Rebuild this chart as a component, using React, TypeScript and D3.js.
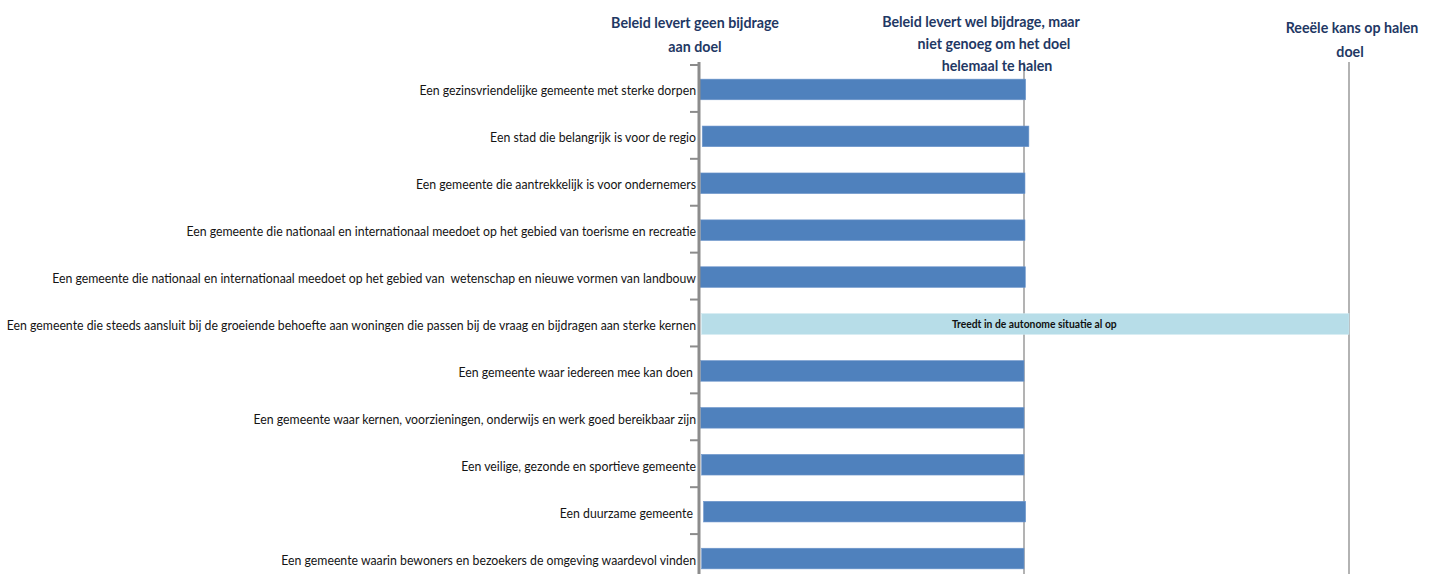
import React, { useLayoutEffect, useRef, useState } from "react";
import * as d3 from "d3";

const categories: string[] = [
  "Een gezinsvriendelijke gemeente met sterke dorpen",
  "Een stad die belangrijk is voor de regio",
  "Een gemeente die aantrekkelijk is voor ondernemers",
  "Een gemeente die nationaal en internationaal meedoet op het gebied van toerisme en recreatie",
  "Een gemeente die nationaal en internationaal meedoet op het gebied van  wetenschap en nieuwe vormen van landbouw",
  "Een gemeente die steeds aansluit bij de groeiende behoefte aan woningen die passen bij de vraag en bijdragen aan sterke kernen",
  "Een gemeente waar iedereen mee kan doen ",
  "Een gemeente waar kernen, voorzieningen, onderwijs en werk goed bereikbaar zijn",
  "Een veilige, gezonde en sportieve gemeente",
  "Een duurzame gemeente ",
  "Een gemeente waarin bewoners en bezoekers de omgeving waardevol vinden",
];

// bar start / end on the 0..2 scale (0 = geen bijdrage, 1 = wel bijdrage, 2 = reeële kans)
const barStart: number[] = [0, 0.01, 0.005, 0.005, 0, 0.008, 0.005, 0.005, 0.008, 0.014, 0.008];
const barEnd: number[] = [1.005, 1.015, 1.003, 1.003, 1.004, 2.0, 1.0, 1.0, 1.0, 1.005, 1.0];
const barKind: string[] = ["b", "b", "b", "b", "b", "a", "b", "b", "b", "b", "b"];
const barNotes: string[] = ["", "", "", "", "", "Treedt in de autonome situatie al op", "", "", "", "", ""];

const headerValues: number[] = [0, 1, 2];
const headerLines: string[][] = [
  ["Beleid levert geen bijdrage", "aan doel"],
  ["Beleid levert wel bijdrage, maar", "niet genoeg om het doel", "helemaal te halen"],
  ["Reeële kans op halen", "doel"],
];

const W = 1436;
const H = 574;
const FONT = "Lato, 'Open Sans', sans-serif";
const kindColor: Record<string, string> = { b: "#4F81BD", a: "#B7DDE8" };
const headerDx: number[][] = [[-4, -4], [-43, -30, -27], [3, 1]];
const headerY0 = [28, 27, 33];
const headerLH = [24, 22, 24];

export default function App() {
  const labelRef = useRef<SVGTextElement>(null);
  const headRef = useRef<SVGTextElement>(null);
  const noteRef = useRef<SVGTextElement>(null);
  const [sx, setSx] = useState(0.84);
  const [hx, setHx] = useState(0.89);
  const [nx, setNx] = useState(0.84);

  useLayoutEffect(() => {
    if (labelRef.current) {
      const w = labelRef.current.getComputedTextLength();
      if (w > 0) setSx(690 / w);
    }
    if (headRef.current) {
      const w = headRef.current.getComputedTextLength();
      if (w > 0) setHx(168 / w);
    }
    if (noteRef.current) {
      const w = noteRef.current.getComputedTextLength();
      if (w > 0) setNx(165 / w);
    }
  }, []);

  const x = d3.scaleLinear().domain([0, 2]).range([699, 1349]);
  const y = d3.scaleBand<string>().domain(categories.map((_, i) => String(i))).range([65, 581]).paddingInner(0.56).paddingOuter(0.28);
  const step = y.step();
  const bandTop = (i: number) => 65 + i * step;
  const longest = categories.reduce((a, b) => (b.length > a.length ? b : a), "");

  return (
    <svg width={W} height={H} style={{ position: "absolute", left: 0, top: 0, background: "#fff" }}>
      {/* hidden measurers */}
      <g visibility="hidden">
        <text ref={labelRef} fontFamily={FONT} fontSize={14}>{longest}</text>
        <text ref={headRef} fontFamily={FONT} fontSize={16} fontWeight="bold">{headerLines[0][0]}</text>
        <text ref={noteRef} fontFamily={FONT} fontSize={11} fontWeight="bold">{barNotes[5]}</text>
      </g>

      {/* reference lines */}
      {[1, 2].map((v) => (
        <line key={v} x1={x(v)} x2={x(v)} y1={62} y2={H} stroke="#8a8a8a" strokeWidth={1.3} />
      ))}

      {/* bars */}
      {categories.map((c, i) => {
        const yy = (y(String(i)) as number) + 1;
        const x0 = x(barStart[i]);
        const x1 = x(barEnd[i]);
        return (
          <g key={c + i}>
            <rect x={x0} y={yy} width={x1 - x0} height={y.bandwidth()} fill={kindColor[barKind[i]]} stroke={barKind[i] === "b" ? "#6f97cc" : "#cde8f0"} strokeWidth={0.6} />
            {barNotes[i] && (
              <text
                transform={`translate(${(x0 + x1) / 2 + 9},${yy + y.bandwidth() / 2 + 4}) scale(${nx},1)`}
                textAnchor="middle"
                fontFamily={FONT}
                fontSize={11}
                fontWeight="bold"
                fill="#111"
              >
                {barNotes[i]}
              </text>
            )}
          </g>
        );
      })}

      {/* axis */}
      <line x1={x(0)} x2={x(0)} y1={62} y2={H + 10} stroke="#8c8c8c" strokeWidth={3} />
      {d3.range(categories.length + 1).map((i) => (
        <line key={"t" + i} x1={x(0) - 9} x2={x(0)} y1={bandTop(i)} y2={bandTop(i)} stroke="#8c8c8c" strokeWidth={2} />
      ))}

      {/* category labels */}
      {categories.map((c, i) => {
        const cy = (y(String(i)) as number) + y.bandwidth() / 2 + 1;
        return (
          <text
            key={"l" + i}
            transform={`translate(${x(0) - 3},${cy + 6}) scale(${sx},1)`}
            textAnchor="end"
            fontFamily={FONT}
            fontSize={14}
            fill="#141414"
            style={{ whiteSpace: "pre" }}
          >
            {c}
          </text>
        );
      })}

      {/* headers */}
      {headerValues.map((v, k) => (
        <g key={"h" + k}>
          {headerLines[k].map((line, j) => (
            <text
              key={j}
              transform={`translate(${x(v) + headerDx[k][j]},${headerY0[k] + j * headerLH[k]}) scale(${hx},1)`}
              textAnchor="middle"
              fontFamily={FONT}
              fontSize={16}
              fontWeight="bold"
              fill="#1F3864"
            >
              {line}
            </text>
          ))}
        </g>
      ))}
    </svg>
  );
}
